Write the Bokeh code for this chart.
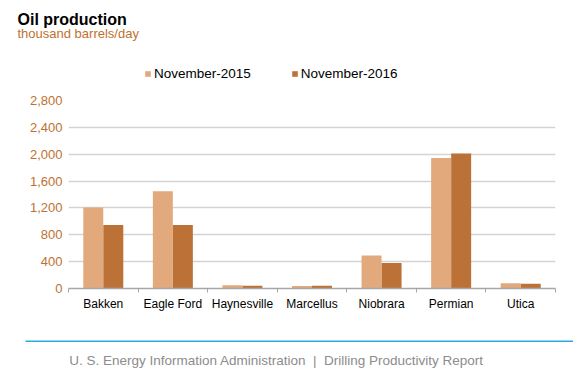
from bokeh.plotting import figure
from bokeh.models import (Range1d, FixedTicker, Label, Legend, LegendItem, BoxAnnotation,
                          ColumnDataSource, NumeralTickFormatter)
from bokeh.layouts import column, row
from bokeh.transform import dodge
from bokeh.embed import file_html
from bokeh.resources import INLINE

categories = ["Bakken", "Eagle Ford", "Haynesville", "Marcellus", "Niobrara", "Permian", "Utica"]
nov_2015 = [1205, 1450, 50, 38, 490, 1945, 80]
nov_2016 = [945, 945, 42, 40, 380, 2010, 72]
series_names = ["November-2015", "November-2016"]
y_ticks = [0, 400, 800, 1200, 1600, 2000, 2400, 2800]

FONT = "Liberation Sans"
ORANGE = "#C0712F"
LIGHT = "#E2A97C"
DARK = "#BC7237"
W = 573


def blank(height):
    f = figure(width=W, height=height, output_backend="svg", toolbar_location=None,
               x_axis_type=None, y_axis_type=None,
               x_range=Range1d(0, 1), y_range=Range1d(0, 1),
               min_border_left=0, min_border_right=0, min_border_top=0, min_border_bottom=0)
    f.grid.visible = False
    f.outline_line_color = None
    f.background_fill_color = "white"
    f.border_fill_color = "white"
    return f


# ---------------- header: title, subtitle, legend ----------------
hdr = blank(92)
hdr.add_layout(Label(x=17, y=73, x_units="screen", y_units="screen",
                     text="Oil production", text_font=FONT, text_font_size="16px",
                     text_font_style="bold", text_color="black",
                     text_baseline="alphabetic"))
hdr.add_layout(Label(x=17, y=59, x_units="screen", y_units="screen",
                     text="thousand barrels/day", text_font=FONT, text_font_size="13px",
                     text_color=ORANGE, text_baseline="alphabetic"))
key = ColumnDataSource(dict(x=[float("nan")], top=[float("nan")]))
k15 = hdr.vbar(x="x", top="top", width=0.1, source=key, fill_color=LIGHT, line_color=None)
k16 = hdr.vbar(x="x", top="top", width=0.1, source=key, fill_color=DARK, line_color=None)
legend = Legend(items=[LegendItem(label=series_names[0], renderers=[k15]),
                       LegendItem(label=series_names[1], renderers=[k16])],
                orientation="horizontal", location=(144, 11),
                glyph_width=7, glyph_height=7, label_height=14, label_standoff=3,
                spacing=40, padding=0, margin=0, border_line_color=None,
                background_fill_alpha=0, label_text_font=FONT,
                label_text_font_size="13.5px", label_text_color="black")
hdr.add_layout(legend, "center")

# ---------------- main chart ----------------
n = len(categories)
centers = [i + 0.5 for i in range(n)]
src = ColumnDataSource(dict(x=centers, v15=nov_2015, v16=nov_2016))

p = figure(width=W, height=226, output_backend="svg", toolbar_location=None,
           x_range=Range1d(0, n), y_range=Range1d(0, y_ticks[-1]),
           min_border_left=68, min_border_right=18, min_border_top=8,
           min_border_bottom=30)
p.outline_line_color = None
p.background_fill_color = "white"
p.border_fill_color = "white"

p.vbar(x=dodge("x", -0.144, range=p.x_range), top="v15", width=0.287, source=src,
       fill_color=LIGHT, line_color=None)
p.vbar(x=dodge("x", 0.144, range=p.x_range), top="v16", width=0.287, source=src,
       fill_color=DARK, line_color=None)

p.yaxis.ticker = FixedTicker(ticks=y_ticks)
p.yaxis.formatter = NumeralTickFormatter(format="0,0")
p.yaxis.axis_line_color = None
p.yaxis.major_tick_line_color = None
p.yaxis.minor_tick_line_color = None
p.yaxis.major_tick_out = 0
p.yaxis.major_tick_in = 0
p.yaxis.major_label_standoff = 6
p.yaxis.major_label_text_font = FONT
p.yaxis.major_label_text_font_size = "13px"
p.yaxis.major_label_text_color = ORANGE
p.ygrid.ticker = FixedTicker(ticks=y_ticks)
p.ygrid.grid_line_color = "#D4D4D4"
p.ygrid.grid_line_width = 1.5

p.xaxis.ticker = FixedTicker(ticks=centers, minor_ticks=list(range(n + 1)))
p.xaxis.major_label_overrides = {c: name for c, name in zip(centers, categories)}
p.xaxis.major_tick_line_color = None
p.xaxis.major_tick_out = 0
p.xaxis.major_tick_in = 0
p.xaxis.minor_tick_line_color = "#A6A6A6"
p.xaxis.minor_tick_out = 4
p.xaxis.minor_tick_in = 0
p.xaxis.axis_line_color = "#A6A6A6"
p.xaxis.axis_line_width = 1.5
p.xaxis.major_label_standoff = 4
p.xaxis.major_label_text_font = FONT
p.xaxis.major_label_text_font_size = "12px"
p.xaxis.major_label_text_color = "black"
p.xgrid.grid_line_color = None

# ---------------- footer ----------------
ftr = blank(68)
ftr.add_layout(BoxAnnotation(left=25, right=573, top=46, bottom=44.5,
                             left_units="screen", right_units="screen",
                             top_units="screen", bottom_units="screen",
                             fill_color="#29ABE2", fill_alpha=1, line_color=None))
ftr.add_layout(Label(x=276, y=26, x_units="screen", y_units="screen",
                     text="U. S. Energy Information Administration\u00a0\u00a0|\u00a0\u00a0Drilling Productivity Report",
                     text_font=FONT, text_font_size="13.5px", text_color="#8C8C8C",
                     text_align="center", text_baseline="middle"))

layout = column(row(hdr), row(p), row(ftr), spacing=0)
open("out.html", "w").write(file_html(layout, INLINE))
